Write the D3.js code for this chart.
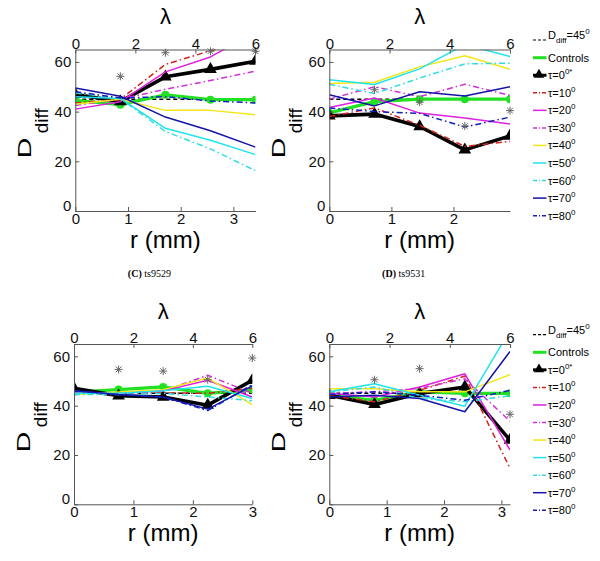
<!DOCTYPE html>
<html><head><meta charset="utf-8">
<script src="https://cdn.jsdelivr.net/npm/d3@7"></script>
<style>body{margin:0;background:#fff}svg{display:block}</style>
</head><body>
<svg id="chart" width="600" height="561"></svg>
<script>
// ---------- data ----------
const lambdaPoints = [0, 1.5, 3, 4.5, 6];
const lambdaTicks = [0, 2, 4, 6];
const yTicks = [0, 20, 40, 60];
const rMax = [3.42, 2.91, 3.0, 3.15];
const rTicks = [[0, 1, 2, 3], [0, 1, 2], [0, 1, 2, 3], [0, 1, 2, 3]];
const captions = ["(C) ts9529", "(D) ts9531", "", ""];
const seriesNames = ["Controls", "τ=0", "τ=10", "τ=20", "τ=30", "τ=40", "τ=50", "τ=60", "τ=70", "τ=80"];
const referenceLevel = [45, 45, 45, 45, 45];

const controls = [[44.5, 42.8, 46.8, 44.8, 44.8], [39.5, 44, 45, 45, 45], [45.5, 46.5, 47.6, 45, 46.5], [44.2, 42.2, 45.6, 45, 45]];
const tau0  = [[47, 44, 54, 57, 60.3], [38.3, 39, 34, 24.6, 30.2], [47, 44, 43.5, 40.2, 50.3], [44.2, 40.5, 44.9, 47.6, 26]];
const tau10 = [[43.5, 45, 59, 64.5, 69], [38, 41.5, 34.5, 26, 28], [45, 45, 45.2, 45, 47], [44, 41.6, 46.2, 52, 14.6]];
const tau20 = [[41, 44, 56, 62, 72], [41.7, 45.5, 39.4, 37.4, 35], [45, 45, 46, 50.3, 43.5], [45, 43.5, 47.6, 52.9, 22]];
const tau30 = [[42.5, 45, 49, 52.5, 56.3], [45, 50, 46, 51, 46.5], [45, 45, 46, 52.3, 45], [45, 45.6, 47, 50.9, 33.7]];
const tau40 = [[43, 45, 40.5, 40.5, 38.7], [51.3, 51.8, 58, 62.5, 57], [44.5, 45.5, 46.5, 51.2, 40.4], [46.9, 46.9, 45.6, 45.6, 52.6]];
const tau50 = [[46, 45.3, 33.3, 28.5, 22.7], [52.8, 50.9, 57.2, 67, 62.2], [45, 45, 46, 47.9, 42.9], [45.6, 48.9, 44.2, 39.8, 70.5]];
const tau60 = [[47.5, 45.3, 32, 25, 16.2], [51, 47.3, 53.5, 59.2, 59.5], [44.5, 44.5, 45, 43.5, 42], [45.5, 47.6, 42.9, 41.6, 44]];
const tau70 = [[49.5, 46.2, 37.8, 32.3, 25.7], [46.8, 42.3, 48, 46.3, 50], [46, 44.5, 43.5, 38.6, 48], [43.5, 44.2, 42.9, 37.5, 62]];
const tau80 = [[48, 45.5, 46, 44.3, 43.5], [41.5, 40, 39.3, 33.8, 37.8], [46, 44.5, 43.5, 38, 48.5], [44.5, 45.6, 44.2, 42.2, 46.2]];
const asterisks = [[null, 54.2, 63.7, 64.3, 64.3], [null, 48.8, 43.8, 34.2, 40.4], [null, 54.7, 54, 50.5, 59.3], [null, 50.5, 55, null, 36.5]];

// ---------- styles / layout ----------
const seriesData = [controls, tau0, tau10, tau20, tau30, tau40, tau50, tau60, tau70, tau80];
const seriesStyle = [
  {color: "#22e022", width: 3.2, dash: null, marker: "circle"},
  {color: "#000000", width: 3.6, dash: null, marker: "triangle"},
  {color: "#d42020", width: 1.5, dash: "6,3,1.5,3"},
  {color: "#e020e0", width: 1.5, dash: null},
  {color: "#d030d8", width: 1.5, dash: "6,3,1.5,3"},
  {color: "#f2e61a", width: 1.5, dash: null},
  {color: "#20e4ec", width: 1.5, dash: null},
  {color: "#30dce0", width: 1.5, dash: "6,3,1.5,3"},
  {color: "#1414a8", width: 1.5, dash: null},
  {color: "#1020c0", width: 1.5, dash: "6,3,1.5,3"}
];
const panels = [
  {left: 75.3, right: 255.5, top: 49.5, bottom: 211},
  {left: 329.3, right: 510, top: 49.5, bottom: 211},
  {left: 74, right: 252.3, top: 344, bottom: 504.3},
  {left: 329.3, right: 510, top: 344, bottom: 504.3}
];
const legends = [{x: 533, y: 57.7}, {x: 533, y: 352.3}];

const svg = d3.select("#chart");
const font = "'Liberation Sans', Arial, Helvetica, sans-serif";

const asteriskSymbol = {
  draw(ctx, size) {
    const r = Math.sqrt(size) / 2, d = r * 0.72;
    ctx.moveTo(-r, 0); ctx.lineTo(r, 0);
    ctx.moveTo(0, -r); ctx.lineTo(0, r);
    ctx.moveTo(-d, -d); ctx.lineTo(d, d);
    ctx.moveTo(-d, d); ctx.lineTo(d, -d);
  }
};

panels.forEach((p, i) => {
  const lam = d3.scaleLinear().domain([0, 6]).range([p.left, p.right]);
  const x = d3.scaleLinear().domain([0, rMax[i]]).range([p.left, p.right]);
  const y = d3.scaleLinear().domain([0, 65]).range([p.bottom, p.top]);
  const g = svg.append("g");

  const clipId = "clip" + i;
  svg.append("clipPath").attr("id", clipId).append("rect")
    .attr("x", p.left).attr("y", p.top).attr("width", p.right - p.left).attr("height", p.bottom - p.top);

  const plot = g.append("g").attr("clip-path", `url(#${clipId})`);
  const line = d3.line().x((d, k) => lam(lambdaPoints[k])).y(d => y(d));

  plot.append("path").attr("d", line(referenceLevel)).attr("fill", "none")
    .attr("stroke", "#000").attr("stroke-width", 1.4).attr("stroke-dasharray", "4,3");

  seriesData.forEach((arr, s) => {
    const st = seriesStyle[s];
    const vals = arr[i];
    plot.append("path").attr("d", line(vals)).attr("fill", "none")
      .attr("stroke", st.color).attr("stroke-width", st.width)
      .attr("stroke-dasharray", st.dash).attr("stroke-linejoin", "round");
    if (st.marker === "circle") {
      plot.selectAll(null).data(vals).enter().append("circle")
        .attr("cx", (d, k) => lam(lambdaPoints[k])).attr("cy", d => y(d)).attr("r", 4)
        .attr("fill", st.color);
    } else if (st.marker === "triangle") {
      plot.selectAll(null).data(vals).enter().append("path")
        .attr("d", d3.symbol(d3.symbolTriangle, 70))
        .attr("transform", (d, k) => `translate(${lam(lambdaPoints[k])},${y(d)})`)
        .attr("fill", "#000");
    }
  });

  g.selectAll(null).data(asterisks[i].map((v, k) => ({v, k})).filter(d => d.v !== null))
    .enter().append("path")
    .attr("d", d3.symbol(asteriskSymbol, 64))
    .attr("transform", d => `translate(${lam(lambdaPoints[d.k])},${y(d.v)})`)
    .attr("fill", "none").attr("stroke", "#666").attr("stroke-width", 1);

  const fmt = d3.format("d");
  const axL = g.append("g").attr("transform", `translate(${p.left},0)`)
    .call(d3.axisLeft(y).tickValues(yTicks).tickFormat(fmt).tickSizeInner(-4).tickSizeOuter(0).tickPadding(4));
  const axB = g.append("g").attr("transform", `translate(0,${p.bottom})`)
    .call(d3.axisBottom(x).tickValues(rTicks[i]).tickFormat(fmt).tickSizeInner(-4).tickSizeOuter(0).tickPadding(2));
  const axT = g.append("g").attr("transform", `translate(0,${p.top})`)
    .call(d3.axisTop(lam).tickValues(lambdaTicks).tickFormat(fmt).tickSizeInner(-4).tickSizeOuter(0).tickPadding(1));
  [axL, axB, axT].forEach(a => {
    a.select(".domain").attr("stroke", "#555");
    a.selectAll(".tick line").attr("stroke", "#555");
    a.selectAll("text").attr("font-family", font).attr("font-size", 15).attr("fill", "#111");
  });
  axL.selectAll(".tick").filter(d => d === 0).select("text").attr("dy", "-0.05em");

  const cx = (p.left + p.right) / 2;
  g.append("text").attr("x", cx).attr("y", p.top - 25.5).attr("text-anchor", "middle")
    .attr("font-family", font).attr("font-size", 22).text("λ");
  g.append("text").attr("x", cx).attr("y", p.bottom + 36.5).attr("text-anchor", "middle")
    .attr("font-family", font).attr("font-size", 24).text("r (mm)");
  const ylab = g.append("g")
    .attr("transform", `translate(${p.left - 44.3},${(p.top + p.bottom) / 2 + 28}) rotate(-90)`);
  ylab.append("text").attr("x", 0).attr("y", 0).attr("font-family", font).attr("font-size", 19)
    .attr("transform", "scale(1.5,1)").text("D");
  ylab.append("text").attr("x", 25).attr("y", 17).attr("font-family", font).attr("font-size", 19)
    .text("diff");

  if (captions[i]) {
    const t = g.append("text").attr("x", cx - 16).attr("y", 277).attr("text-anchor", "middle")
      .attr("font-family", "'Liberation Serif', 'DejaVu Serif', serif").attr("font-size", 10);
    const parts = captions[i].split(" ");
    t.append("tspan").attr("font-weight", "bold").text(parts[0]);
    t.append("tspan").text(" " + parts[1]);
  }
});

legends.forEach(L => {
  const g = svg.append("g");
  const lx0 = L.x, lx1 = L.x + 13.5, tx = L.x + 15;
  const step = 17.55;
  const ry = L.y - 17.7;
  g.append("line").attr("x1", lx0).attr("x2", lx1).attr("y1", ry).attr("y2", ry)
    .attr("stroke", "#000").attr("stroke-width", 1.2).attr("stroke-dasharray", "3,2");
  const rt = g.append("text").attr("x", tx).attr("y", ry - 1).attr("font-family", font).attr("font-size", 11);
  rt.append("tspan").text("D");
  rt.append("tspan").attr("font-size", 8).attr("dy", 4).text("diff");
  rt.append("tspan").attr("dy", -4).text("=45");
  rt.append("tspan").attr("font-size", 8).attr("dy", -5).text("0");

  seriesNames.forEach((name, s) => {
    const st = seriesStyle[s];
    const yy = L.y + s * step;
    g.append("line").attr("x1", lx0).attr("x2", lx1).attr("y1", yy).attr("y2", yy)
      .attr("stroke", st.color).attr("stroke-width", Math.min(st.width, 3))
      .attr("stroke-dasharray", st.dash ? "4,2,1,2" : null);
    if (st.marker === "triangle") {
      g.append("path").attr("d", d3.symbol(d3.symbolTriangle, 45))
        .attr("transform", `translate(${lx0 + 6},${yy - 0.5})`).attr("fill", "#000");
    }
    const t = g.append("text").attr("x", tx).attr("y", yy + 4).attr("font-family", font).attr("font-size", 11);
    if (s === 0) {
      t.text(name);
    } else {
      t.append("tspan").text(name);
      t.append("tspan").attr("font-size", 8).attr("dy", -5).text(s === 1 ? "0*" : "0");
    }
  });
});
</script>
</body></html>
